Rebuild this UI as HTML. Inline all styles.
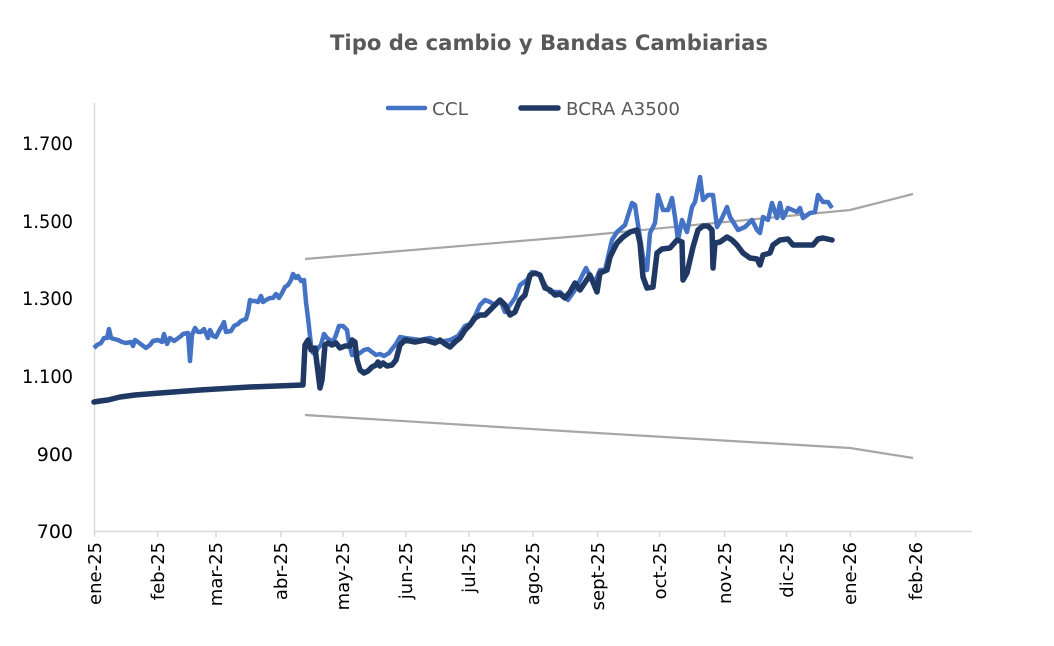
<!DOCTYPE html>
<html><head><meta charset="utf-8"><style>
body{margin:0;background:#fff;}
svg{display:block;font-family:"DejaVu Sans","Liberation Sans",sans-serif;}
</style></head><body>
<svg width="1054" height="646" viewBox="0 0 1054 646">
<text x="549" y="50" text-anchor="middle" font-size="21" font-weight="bold" fill="#595959" textLength="438" lengthAdjust="spacingAndGlyphs">Tipo de cambio y Bandas Cambiarias</text>
<line x1="388" y1="108" x2="425" y2="108" stroke="#4472C4" stroke-width="4.5" stroke-linecap="round"/>
<text x="432" y="115" font-size="18" fill="#595959" textLength="36" lengthAdjust="spacingAndGlyphs">CCL</text>
<line x1="521" y1="108" x2="558" y2="108" stroke="#1F3864" stroke-width="5.5" stroke-linecap="round"/>
<text x="566" y="115" font-size="18" fill="#595959" textLength="114" lengthAdjust="spacingAndGlyphs">BCRA A3500</text>
<g font-size="19" fill="#000" text-anchor="end">
<text x="73" y="150" textLength="51" lengthAdjust="spacingAndGlyphs">1.700</text><text x="73" y="228" textLength="51" lengthAdjust="spacingAndGlyphs">1.500</text><text x="73" y="305" textLength="51" lengthAdjust="spacingAndGlyphs">1.300</text>
<text x="73" y="383" textLength="51" lengthAdjust="spacingAndGlyphs">1.100</text><text x="73" y="461">900</text><text x="73" y="538">700</text>
</g>
<line x1="94.5" y1="103" x2="94.5" y2="531" stroke="#d9d9d9" stroke-width="1.5"/>
<line x1="94" y1="531.5" x2="972" y2="531.5" stroke="#d9d9d9" stroke-width="1.5"/>
<g stroke="#d9d9d9" stroke-width="1.5">
<line x1="94.5" y1="531" x2="94.5" y2="537"/><line x1="157.7" y1="531" x2="157.7" y2="537"/><line x1="216" y1="531" x2="216" y2="537"/><line x1="281" y1="531" x2="281" y2="537"/><line x1="343" y1="531" x2="343" y2="537"/><line x1="406" y1="531" x2="406" y2="537"/><line x1="469" y1="531" x2="469" y2="537"/><line x1="533" y1="531" x2="533" y2="537"/><line x1="597.6" y1="531" x2="597.6" y2="537"/><line x1="659.6" y1="531" x2="659.6" y2="537"/><line x1="724.6" y1="531" x2="724.6" y2="537"/><line x1="786.6" y1="531" x2="786.6" y2="537"/><line x1="850.3" y1="531" x2="850.3" y2="537"/><line x1="915.6" y1="531" x2="915.6" y2="537"/>
</g>
<g font-size="18" fill="#000" text-anchor="end">
<text transform="translate(101,542) rotate(-90)">ene-25</text>
<text transform="translate(164,542) rotate(-90)">feb-25</text>
<text transform="translate(222,542) rotate(-90)">mar-25</text>
<text transform="translate(287,542) rotate(-90)">abr-25</text>
<text transform="translate(349,542) rotate(-90)">may-25</text>
<text transform="translate(412,542) rotate(-90)">jun-25</text>
<text transform="translate(475,542) rotate(-90)">jul-25</text>
<text transform="translate(539,542) rotate(-90)">ago-25</text>
<text transform="translate(604,542) rotate(-90)">sept-25</text>
<text transform="translate(666,542) rotate(-90)">oct-25</text>
<text transform="translate(731,542) rotate(-90)">nov-25</text>
<text transform="translate(793,542) rotate(-90)">dic-25</text>
<text transform="translate(856,542) rotate(-90)">ene-26</text>
<text transform="translate(922,542) rotate(-90)">feb-26</text>
</g>
<polyline fill="none" stroke="#a6a6a6" stroke-width="2.2" points="305,259 580,236 850,210 913,194"/>
<polyline fill="none" stroke="#a6a6a6" stroke-width="2.2" points="305,415 580,432 850,448 913,458"/>
<polyline fill="none" stroke="#4472C4" stroke-width="4.5" stroke-linejoin="round" points="94,348 97,345 101,343 104,338 107,338 109,329 111,338 114,339 118,340 122,342 126,343 131,342 133,346 135,340 138,342 142,345 146,348 150,345 153,341 158,340 162,342 164,334 167,344 170,338 174,341 177,339 181,336 183,334 188,333 190,361 192,335 195,328 198,332 201,332 204,329 208,338 210,330 213,336 216,337 219,331 222,326 224,322 226,332 231,331 234,326 238,324 241,321 246,319 248,312 250,300 252,301 255,301 258,302 261,296 263,302 266,300 270,298 273,298 276,294 279,298 282,293 285,287 288,285 291,280 293,274 296,278 298,276 301,281 304,280 306,302 308,318 311,345 313,353 316,352 318,348 321,345 324,334 327,338 330,340 333,342 336,335 339,326 343,326 347,330 349,343 352,355 356,355 360,353 364,350 368,349 372,352 376,355 380,354 384,356 389,353 392,349 396,344 400,337 405,338 420,340 430,338 440,342 450,340 458,336 465,326 470,324 475,316 480,305 485,300 490,302 495,305 500,300 505,312 510,305 515,298 520,285 527,280 532,272 540,275 545,285 550,292 560,292 568,300 575,290 580,280 586,268 590,276 595,282 600,270 605,270 612,240 617,232 625,225 632,203 635,205 638,225 643,257 647,270 650,233 655,223 658,195 663,210 668,210 672,198 675,217 678,240 682,220 687,232 692,207 695,202 700,177 703,200 708,195 713,195 717,227 722,218 727,207 730,217 735,225 738,230 745,227 752,220 757,230 760,233 763,217 768,220 772,203 777,218 780,203 783,218 788,208 797,212 800,208 803,218 810,213 815,212 818,195 823,202 828,202 832,208"/>
<polyline fill="none" stroke="#1F3864" stroke-width="5.5" stroke-linejoin="round" stroke-linecap="round" points="94,402 100,401 108,400 120,397 135,395 160,393 200,390 250,387 303,385 305,345 308,340 311,350 315,348 318,372 320,388 322,380 325,345 328,343 332,345 336,343 340,348 345,346 350,346 352,340 355,342 357,360 360,370 364,373 368,371 372,367 376,365 378,362 380,366 383,363 387,366 392,365 396,360 400,345 405,340 415,342 425,340 435,343 440,340 445,344 450,347 455,342 460,338 465,330 470,325 475,318 480,315 485,315 490,310 495,305 500,300 505,305 510,315 515,312 520,300 525,295 530,275 535,273 540,275 545,288 550,290 555,295 560,294 565,298 570,292 575,283 580,290 590,275 597,292 600,273 607,270 610,257 617,243 623,237 630,232 637,230 640,243 643,277 647,288 653,287 657,253 662,249 670,248 677,240 682,242 683,280 687,273 693,247 698,230 703,226 708,226 712,230 713,268 715,243 720,242 727,237 732,240 737,245 743,253 750,258 757,259 760,265 763,255 770,253 773,245 780,240 788,239 793,245 807,245 813,245 818,239 823,238 832,240"/>
</svg>
</body></html>
